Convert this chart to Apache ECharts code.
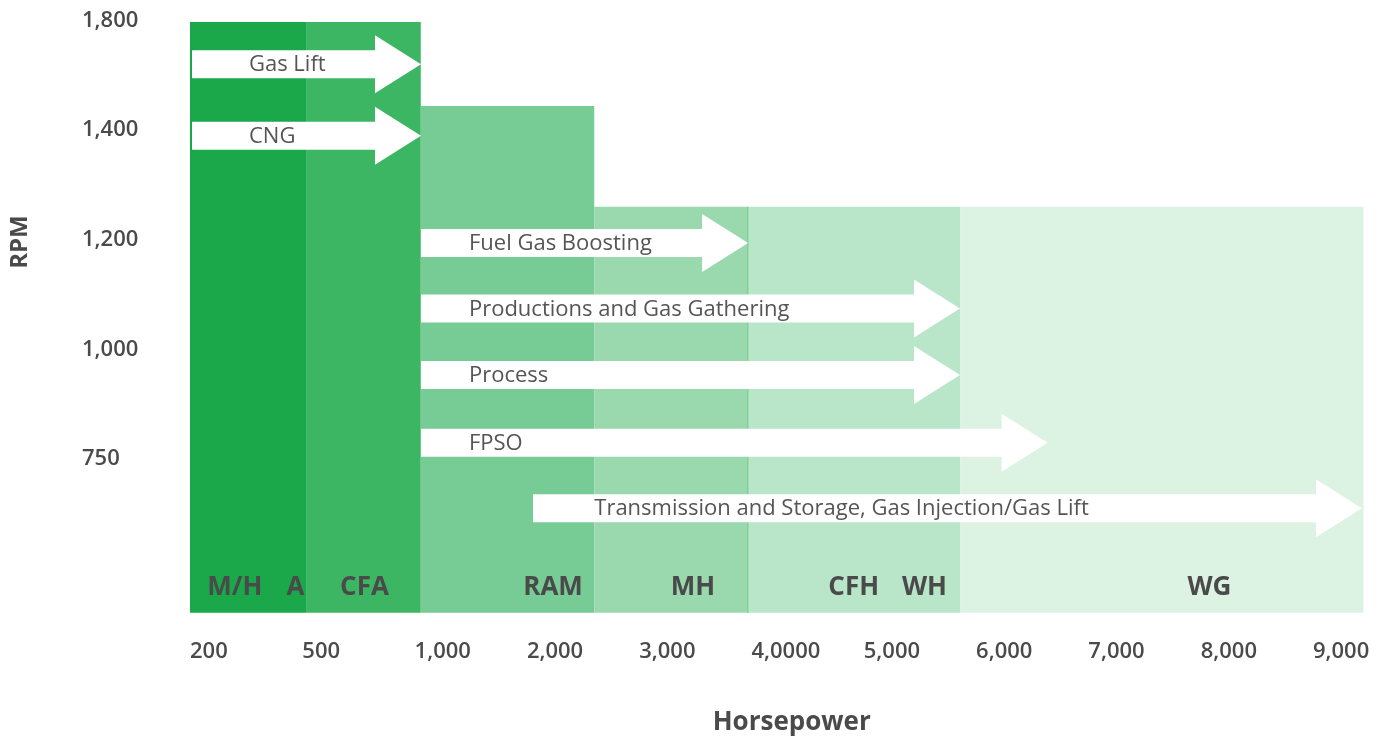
<!DOCTYPE html>
<html>
<head>
<meta charset="utf-8">
<script src="https://cdn.jsdelivr.net/npm/echarts@6/dist/echarts.min.js"></script>
<style>
html,body{margin:0;padding:0;background:#fff;}
#chart{width:1390px;height:740px;}
</style>
</head>
<body>
<div id="chart"></div>
<script>
// Axis tick labels (the horsepower axis is drawn on an index scale, the RPM axis on a level scale)
const xTickLabels = ['200','500','1,000','2,000','3,000','4,0000','5,000','6,000','7,000','8,000','9,000'];
const yTickLabels = ['750','1,000','1,200','1,400','1,800'];
const yTickLevels = [1.4, 2.4, 3.4, 4.4, 5.4];

// Compressor frame families: horsepower range (axis scale) and top speed (level scale)
const bandStart = [0, 1.04, 2.055, 3.60, 4.975, 6.86];
const bandEnd   = [1.04, 2.055, 3.60, 4.975, 6.86, 10.45];
const bandTop   = [5.385, 5.385, 4.62, 3.70, 3.70, 3.70];

// Model names written at the foot of the bands
const modelNames = ['M/H','A','CFA','RAM','MH','CFH','WH','WG'];
const modelAt    = [0.40, 0.94, 1.554, 3.233, 4.479, 5.91, 6.54, 9.078];
const modelLevel = 0.234;

// Applications (arrows)
const appNames  = ['Gas Lift','CNG','Fuel Gas Boosting','Productions and Gas Gathering','Process','FPSO','Transmission and Storage, Gas Injection/Gas Lift'];
const appStart  = [0.018, 0.018, 2.057, 2.057, 2.057, 2.057, 3.054];
const appEnd    = [2.057, 2.057, 4.97, 6.857, 6.857, 7.637, 10.436];
const appLevel  = [5.0, 4.347, 3.37, 2.773, 2.167, 1.549, 0.953];
const appTextAt = [0.525, 0.525, 2.484, 2.484, 2.484, 2.484, 3.6];

// Styles
const bandColors = ['#1aa84a','#3db663','#77cb94','#99d9ad','#b9e5c9','#dcf2e3'];
const bandEdge   = [null, null, null, '#7fcf98', null, null];
const textColor = '#4a4a4a';
const FONT = '"Open Sans", "Noto Sans", sans-serif';

const chart = echarts.init(document.getElementById('chart'), null, {renderer: 'canvas'});

const bandData = bandStart.map((s, i) => [s, bandEnd[i], bandTop[i], i]);
const appData = appNames.map((n, i) => [appStart[i], appEnd[i], appLevel[i], appTextAt[i], n]);
const modelData = modelNames.map((n, i) => [modelAt[i], modelLevel, n]);

const option = {
  animation: false,
  backgroundColor: '#ffffff',
  grid: {left: 190, right: 26.5, top: 9.35, bottom: 127.3, containLabel: false, outerBoundsMode: 'none'},
  xAxis: {
    type: 'value', min: 0, max: 10.45,
    name: 'Horsepower', nameLocation: 'middle', nameGap: 97,
    nameTextStyle: {fontFamily: FONT, fontSize: 26, fontWeight: 'bold', color: textColor, padding: [0, 0, 0, 30], lineHeight: 26},
    axisLine: {show: false}, axisTick: {show: false}, splitLine: {show: false},
    axisLabel: {
      customValues: xTickLabels.map((_, i) => i),
      formatter: v => xTickLabels[Math.round(v)] || '',
      align: 'left', margin: 28, lineHeight: 22,
      fontFamily: FONT, fontSize: 22, fontWeight: 600, color: textColor
    }
  },
  yAxis: {
    type: 'value', min: 0, max: 5.5,
    name: 'RPM', nameLocation: 'middle', nameGap: 158, nameRotate: 90,
    nameTextStyle: {fontFamily: FONT, fontSize: 24, fontWeight: 'bold', color: textColor, padding: [0, 0, 0, 138], lineHeight: 24},
    axisLine: {show: false}, axisTick: {show: false}, splitLine: {show: false},
    axisLabel: {
      customValues: yTickLevels,
      formatter: v => { const k = yTickLevels.findIndex(t => Math.abs(t - v) < 1e-6); return k >= 0 ? yTickLabels[k] : ''; },
      align: 'left', margin: 108, padding: [6, 0, 0, 0],
      fontFamily: FONT, fontSize: 22, fontWeight: 600, color: textColor
    }
  },
  series: [
    {
      type: 'custom', name: 'bands', z: 1,
      data: bandData,
      encode: {x: [0, 1], y: 2},
      renderItem: function (params, api) {
        const p0 = api.coord([api.value(0), api.value(2)]);
        const p1 = api.coord([api.value(1), 0]);
        const idx = api.value(3);
        const children = [{
          type: 'rect',
          shape: {x: p0[0], y: p0[1], width: p1[0] - p0[0], height: p1[1] - p0[1]},
          style: {fill: bandColors[idx]}
        }];
        if (bandEdge[idx]) {
          children.push({
            type: 'rect',
            shape: {x: p1[0] - 1.5, y: p0[1], width: 1.5, height: p1[1] - p0[1]},
            style: {fill: bandEdge[idx]}
          });
        }
        return {type: 'group', children: children};
      }
    },
    {
      type: 'custom', name: 'applications', z: 3,
      data: appData,
      encode: {x: [0, 1], y: 2},
      renderItem: function (params, api) {
        const a = api.coord([api.value(0), api.value(2)]);
        const b = api.coord([api.value(1), api.value(2)]);
        const t = api.coord([api.value(3), api.value(2)]);
        const cy = a[1], x0 = a[0], tip = b[0];
        const sh = 14, hh = 29, hl = 46;
        return {
          type: 'group',
          children: [
            {
              type: 'polygon',
              shape: {points: [[x0, cy - sh], [tip - hl, cy - sh], [tip - hl, cy - hh], [tip, cy], [tip - hl, cy + hh], [tip - hl, cy + sh], [x0, cy + sh]]},
              style: {fill: '#ffffff'}
            },
            {
              type: 'text',
              style: {x: t[0], y: cy + 1, text: appData[params.dataIndex][4], fill: '#555555',
                font: '400 22px ' + FONT, textAlign: 'left', textVerticalAlign: 'middle'}
            }
          ]
        };
      }
    },
    {
      type: 'custom', name: 'models', z: 4,
      data: modelData,
      encode: {x: 0, y: 1},
      renderItem: function (params, api) {
        const p = api.coord([api.value(0), api.value(1)]);
        return {
          type: 'text',
          style: {x: p[0], y: p[1] + 1, text: modelData[params.dataIndex][2], fill: textColor,
            font: 'bold 26px ' + FONT, textAlign: 'center', textVerticalAlign: 'middle'}
        };
      }
    }
  ]
};
chart.setOption(option);
</script>
</body>
</html>
